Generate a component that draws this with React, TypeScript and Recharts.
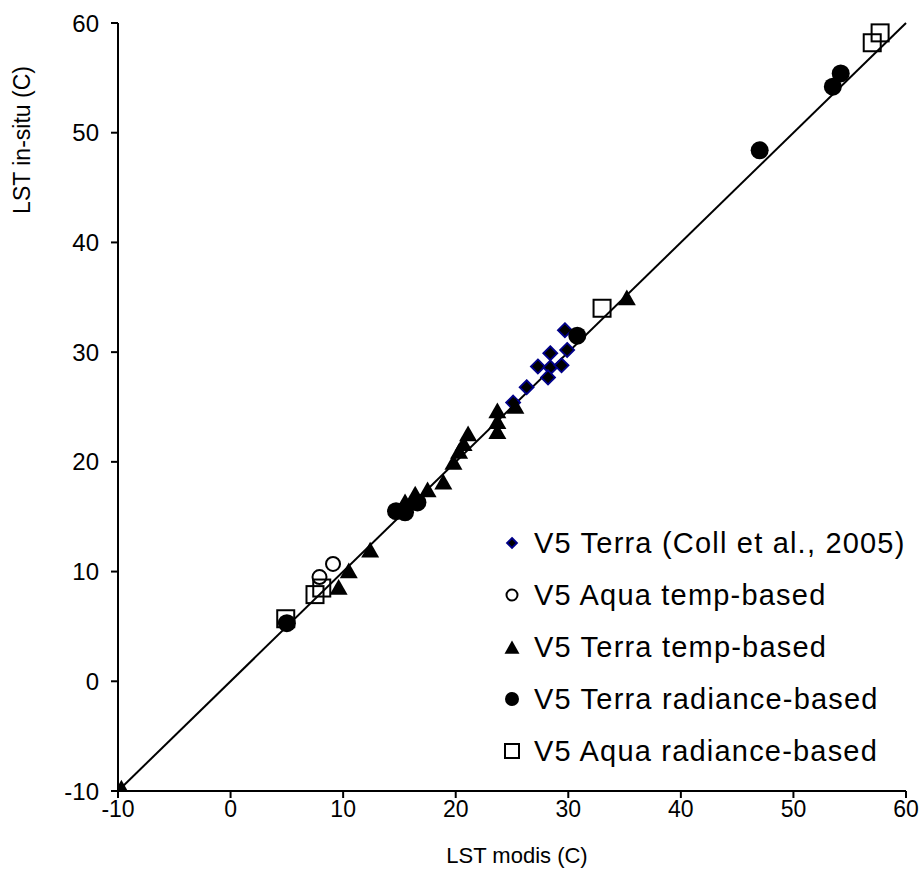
import React from 'react';
import {
  ScatterChart,
  Scatter,
  XAxis,
  YAxis,
  ReferenceLine,
} from 'recharts';

// V5 Terra (Coll et al., 2005)
const collX = [25.1, 26.3, 27.3, 28.4, 28.4, 28.2, 29.4, 29.9, 29.7];
const collY = [25.4, 26.8, 28.7, 29.9, 28.6, 27.7, 28.8, 30.2, 32.0];

// V5 Aqua temp-based
const aquaTempX = [9.1, 7.9];
const aquaTempY = [10.7, 9.5];

// V5 Terra temp-based
const terraTempX = [-9.7, 9.6, 10.5, 12.4, 15.5, 16.4, 17.5, 18.9, 19.8, 20.3, 20.7, 21.1, 23.7, 23.7, 23.7, 25.3, 35.2];
const terraTempY = [-9.8, 8.5, 10.0, 11.9, 16.3, 17.0, 17.4, 18.1, 19.9, 20.9, 21.6, 22.5, 24.6, 23.6, 22.7, 25.0, 34.9];

// V5 Terra radiance-based
const terraRadX = [5.0, 14.7, 15.5, 16.6, 30.8, 47.0, 53.5, 54.2];
const terraRadY = [5.3, 15.5, 15.4, 16.3, 31.5, 48.4, 54.2, 55.4];

// V5 Aqua radiance-based
const aquaRadX = [4.9, 7.5, 8.1, 33.0, 57.0, 57.7];
const aquaRadY = [5.7, 7.9, 8.5, 34.0, 58.2, 59.1];

const axisTicks = [-10, 0, 10, 20, 30, 40, 50, 60];
const legendLabels = [
  'V5 Terra (Coll et al., 2005)',
  'V5 Aqua temp-based',
  'V5 Terra temp-based',
  'V5 Terra radiance-based',
  'V5 Aqua radiance-based',
];

const toPoints = (xs: number[], ys: number[]) => xs.map((x, i) => ({ x, y: ys[i] }));

const FONT = '"Liberation Sans", Arial, sans-serif';

const Diamond = ({ cx, cy, r = 7 }: any) => (
  <polygon
    points={`${cx},${cy - r} ${cx + r},${cy} ${cx},${cy + r} ${cx - r},${cy}`}
    fill="#000"
    stroke="#00008b"
    strokeWidth={1.8}
  />
);
const OpenCircle = ({ cx, cy, r = 7 }: any) => (
  <circle cx={cx} cy={cy} r={r} fill="none" stroke="#000" strokeWidth={2} />
);
const Triangle = ({ cx, cy, s = 9 }: any) => (
  <polygon
    points={`${cx},${cy - s} ${cx + s},${cy + s * 0.75} ${cx - s},${cy + s * 0.75}`}
    fill="#000"
  />
);
const Dot = ({ cx, cy, r = 9 }: any) => <circle cx={cx} cy={cy} r={r} fill="#000" />;
const Square = ({ cx, cy, s = 8.5 }: any) => (
  <rect x={cx - s} y={cy - s} width={s * 2} height={s * 2} fill="#fff" fillOpacity={0} stroke="#000" strokeWidth={2} />
);

const legendIcons = [
  <Diamond cx={12} cy={14} r={5} />,
  <OpenCircle cx={12} cy={14} r={5.5} />,
  <Triangle cx={12} cy={15} s={7.5} />,
  <Dot cx={12} cy={14} r={7} />,
  <Square cx={12} cy={14} s={7} />,
];

function LegendBox() {
  return (
    <div
      style={{
        position: 'absolute',
        left: 500,
        top: 517,
        fontFamily: FONT,
        fontSize: 29,
        letterSpacing: 1.2,
        color: '#000',
        whiteSpace: 'nowrap',
      }}
    >
      {legendLabels.map((label, i) => (
        <div key={label} style={{ display: 'flex', alignItems: 'center', height: 52 }}>
          <svg width={26} height={28} style={{ marginRight: 8 }}>
            {legendIcons[i]}
          </svg>
          <span>{label}</span>
        </div>
      ))}
    </div>
  );
}

const YTitle = () => (
  <text
    x={22}
    y={140}
    transform="rotate(-90, 22, 140)"
    textAnchor="middle"
    dominantBaseline="central"
    fontFamily={FONT}
    fontSize={23}
    fill="#000"
  >
    LST in-situ (C)
  </text>
);

const XTitle = ({ viewBox }: any) => (
  <text
    x={viewBox.x + viewBox.width / 2 + 5}
    y={855}
    textAnchor="middle"
    dominantBaseline="central"
    fontFamily={FONT}
    fontSize={22}
    fill="#000"
  >
    LST modis (C)
  </text>
);

export default function App() {
  const xTickStyle = { fontSize: 23, fill: '#000', fontFamily: FONT };
  const yTickStyle = { fontSize: 24, fill: '#000', fontFamily: FONT };
  return (
    <div style={{ position: 'absolute', left: 0, top: 0, width: 919, height: 893, background: '#fff' }}>
      <ScatterChart width={919} height={893} margin={{ top: 23, right: 13, bottom: 32, left: 0 }}>
        <XAxis
          type="number"
          dataKey="x"
          domain={[-10, 60]}
          ticks={axisTicks}
          allowDataOverflow
          height={70}
          axisLine={{ stroke: '#000', strokeWidth: 2 }}
          tickLine={{ stroke: '#000', strokeWidth: 2 }}
          tickSize={7}
          tickMargin={3}
          tick={xTickStyle}
          label={{ content: <XTitle /> }}
        />
        <YAxis
          type="number"
          dataKey="y"
          domain={[-10, 60]}
          ticks={axisTicks}
          allowDataOverflow
          width={118}
          axisLine={{ stroke: '#000', strokeWidth: 2 }}
          tickLine={{ stroke: '#000', strokeWidth: 2 }}
          tickSize={7}
          tickMargin={12}
          tick={yTickStyle}
          label={{ content: <YTitle /> }}
        />
        <Scatter name={legendLabels[0]} data={toPoints(collX, collY)} shape={<Diamond />} isAnimationActive={false} />
        <Scatter name={legendLabels[1]} data={toPoints(aquaTempX, aquaTempY)} shape={<OpenCircle />} isAnimationActive={false} />
        <Scatter name={legendLabels[2]} data={toPoints(terraTempX, terraTempY)} shape={<Triangle />} isAnimationActive={false} />
        <Scatter name={legendLabels[3]} data={toPoints(terraRadX, terraRadY)} shape={<Dot />} isAnimationActive={false} />
        <Scatter name={legendLabels[4]} data={toPoints(aquaRadX, aquaRadY)} shape={<Square />} isAnimationActive={false} />
        <ReferenceLine
          segment={[{ x: -10, y: -10 }, { x: 60, y: 60 }]}
          stroke="#000"
          strokeWidth={2}
          ifOverflow="visible"
        />
      </ScatterChart>
      <LegendBox />
    </div>
  );
}
